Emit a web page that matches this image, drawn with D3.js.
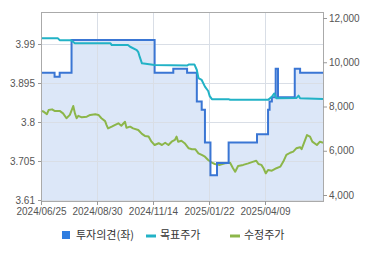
<!DOCTYPE html>
<html>
<head>
<meta charset="utf-8">
<script src="https://cdn.jsdelivr.net/npm/d3@7"></script>
<style>
  body { margin: 0; background: #fff; }
  .tick text { font-family: "Liberation Sans", Arial, sans-serif; font-size: 10px; fill: #555; }
  .tick line { stroke: #999; }
  .legend text { font-family: "Noto Sans CJK KR", sans-serif; font-size: 11px; fill: #333; }
</style>
</head>
<body>
<div id="container"></div>
<script>
// 기본 캔버스 크기와 여백
const WIDTH = 370;
const HEIGHT = 255;
const MARGIN = { TOP: 12, BOTTOM: 54, LEFT: 41, RIGHT: 47 };
const TICK_STEP = 56;

const width = WIDTH - MARGIN.LEFT - MARGIN.RIGHT;
const height = HEIGHT - MARGIN.TOP - MARGIN.BOTTOM;

const parse = d3.timeParse('%Y-%m-%d');

// x축 눈금 날짜 (거래일 기준이라 간격이 일정함)
const tickDates = ['2024-06-25', '2024-08-30', '2024-11-14', '2025-01-22', '2025-04-09'];
const lastDate = '2025-06-24';

// 좌축 / 우축 눈금
const leftTicks = [3.61, 3.705, 3.8, 3.895, 3.99];
const rightTicks = [4000, 6000, 8000, 10000, 12000];

// 투자의견 (좌축, 계단형)
const opinion = [
  ['2024-06-25', 3.92], ['2024-07-11', 3.91], ['2024-07-17', 3.92], ['2024-07-31', 4.0],
  ['2024-11-16', 3.92], ['2024-12-09', 3.93], ['2024-12-26', 3.92], ['2025-01-07', 3.85],
  ['2025-01-13', 3.83], ['2025-01-17', 3.75], ['2025-01-24', 3.67], ['2025-02-02', 3.70],
  ['2025-02-18', 3.75], ['2025-03-29', 3.77], ['2025-04-13', 3.83], ['2025-04-15', 3.85],
  ['2025-04-18', 3.86], ['2025-04-23', 3.93], ['2025-04-26', 3.86], ['2025-05-18', 3.93],
  ['2025-05-25', 3.92], ['2025-06-24', 3.92]
];

// 목표주가 (우축)
const target = [
  ['2024-06-25', 11080], ['2024-07-15', 11080], ['2024-07-17', 11000], ['2024-07-30', 11000],
  ['2024-08-04', 10860], ['2024-09-17', 10860], ['2024-09-19', 10780], ['2024-10-11', 10780],
  ['2024-10-14', 10700], ['2024-10-23', 10550], ['2024-10-25', 10460], ['2024-10-27', 10240],
  ['2024-10-30', 9950], ['2024-11-16', 9880], ['2024-12-26', 9850], ['2024-12-28', 9900],
  ['2025-01-04', 9900], ['2025-01-07', 9650], ['2025-01-09', 9280], ['2025-01-13', 9200],
  ['2025-01-17', 8900], ['2025-01-21', 8700], ['2025-01-23', 8470], ['2025-01-26', 8330],
  ['2025-02-18', 8330], ['2025-02-20', 8300], ['2025-04-13', 8300], ['2025-04-18', 8440],
  ['2025-04-21', 8590], ['2025-04-24', 8370], ['2025-05-20', 8380], ['2025-05-23', 8490],
  ['2025-05-25', 8370], ['2025-06-24', 8340]
];

// 수정주가 (우축)
const price = [
  ['2024-06-25', 7800], ['2024-06-28', 7770], ['2024-07-02', 7650], ['2024-07-04', 7840],
  ['2024-07-08', 7870], ['2024-07-11', 7800], ['2024-07-17', 7800], ['2024-07-21', 7690],
  ['2024-07-25', 7470], ['2024-07-29', 7620], ['2024-08-02', 8020], ['2024-08-04', 7690],
  ['2024-08-06', 7470], ['2024-08-08', 7580], ['2024-08-12', 7510], ['2024-08-18', 7540],
  ['2024-08-22', 7620], ['2024-08-28', 7650], ['2024-09-01', 7620], ['2024-09-05', 7470],
  ['2024-09-10', 7340], ['2024-09-12', 7160], ['2024-09-14', 7010], ['2024-09-19', 7090],
  ['2024-09-23', 7160], ['2024-09-28', 7240], ['2024-10-02', 7130], ['2024-10-07', 7310],
  ['2024-10-09', 7040], ['2024-10-14', 7090], ['2024-10-18', 7010], ['2024-10-25', 6940],
  ['2024-10-30', 6760], ['2024-11-03', 6670], ['2024-11-08', 6640], ['2024-11-12', 6410],
  ['2024-11-16', 6260], ['2024-11-21', 6340], ['2024-11-25', 6260], ['2024-11-29', 6360],
  ['2024-12-03', 6260], ['2024-12-07', 6410], ['2024-12-11', 6490], ['2024-12-13', 6640],
  ['2024-12-15', 6410], ['2024-12-19', 6450], ['2024-12-23', 6340], ['2024-12-28', 6110],
  ['2025-01-01', 6070], ['2025-01-05', 6070], ['2025-01-09', 5880], ['2025-01-13', 5810],
  ['2025-01-17', 5730], ['2025-01-21', 5580], ['2025-01-26', 5460], ['2025-01-30', 5400],
  ['2025-02-06', 5360], ['2025-02-13', 5430], ['2025-02-20', 5460], ['2025-02-24', 5210],
  ['2025-02-27', 5050], ['2025-03-03', 5310], ['2025-03-10', 5360], ['2025-03-17', 5430],
  ['2025-03-24', 5510], ['2025-03-28', 5550], ['2025-03-31', 5400], ['2025-04-04', 5360],
  ['2025-04-07', 5210], ['2025-04-10', 4980], ['2025-04-13', 5130], ['2025-04-18', 5100],
  ['2025-04-24', 5210], ['2025-04-29', 5280], ['2025-05-03', 5510], ['2025-05-07', 5810],
  ['2025-05-12', 5910], ['2025-05-16', 5960], ['2025-05-20', 6110], ['2025-05-25', 6160],
  ['2025-05-27', 6070], ['2025-05-30', 6340], ['2025-06-03', 6710], ['2025-06-07', 6640],
  ['2025-06-10', 6410], ['2025-06-16', 6260], ['2025-06-20', 6410], ['2025-06-24', 6360]
];

const legendLabels = ['투자의견(좌)', '목표주가', '수정주가'];

const COLORS = { opinion: '#3a76d4', target: '#22b2c6', price: '#8cb64a', area: '#dce7f8' };

const container = d3.select('#container')
                    .append('svg')
                      .attr('width', WIDTH)
                      .attr('height', HEIGHT)
                    .append('g')
                      .attr('transform', `translate(${MARGIN.LEFT}, ${MARGIN.TOP})`);

// 스케일: 눈금 날짜마다 같은 간격이 되도록 다구간 시간 스케일 사용
const ticks = tickDates.map(parse);
const x = d3.scaleTime()
            .domain([...ticks, parse(lastDate)])
            .range([...ticks.map((d, i) => i * TICK_STEP), width]);

const yLeft = d3.scaleLinear()
                .domain([3.61, 3.99])
                .range([height - 1, 32]);

const yRight = d3.scaleLinear()
                 .domain([4000, 12000])
                 .range([183, 6]);

// 투자의견 아래 영역
container.append('path')
         .datum(opinion)
         .attr('fill', COLORS.area)
         .attr('d', d3.area()
                      .curve(d3.curveStepAfter)
                      .x(d => x(parse(d[0])))
                      .y0(height)
                      .y1(d => yLeft(d[1])));

// 격자
container.append('g')
         .selectAll('line')
         .data(leftTicks)
         .enter()
         .append('line')
           .attr('x1', 0)
           .attr('x2', width)
           .attr('y1', d => Math.round(yLeft(d)) + 0.5)
           .attr('y2', d => Math.round(yLeft(d)) + 0.5)
           .attr('stroke', '#d9dee6');

container.append('g')
         .selectAll('line')
         .data(ticks)
         .enter()
         .append('line')
           .attr('x1', d => Math.round(x(d)) + 0.5)
           .attr('x2', d => Math.round(x(d)) + 0.5)
           .attr('y1', 0)
           .attr('y2', height)
           .attr('stroke', '#d9dee6');

// 선 그리기
const lineOf = (scale, curve) => d3.line()
                                   .curve(curve)
                                   .x(d => x(parse(d[0])))
                                   .y(d => scale(d[1]));

container.append('path')
         .datum(price)
         .attr('fill', 'none')
         .attr('stroke', COLORS.price)
         .attr('stroke-width', 2)
         .attr('stroke-linejoin', 'round')
         .attr('d', lineOf(yRight, d3.curveLinear));

container.append('path')
         .datum(opinion)
         .attr('fill', 'none')
         .attr('stroke', COLORS.opinion)
         .attr('stroke-width', 2)
         .attr('d', lineOf(yLeft, d3.curveStepAfter));

container.append('path')
         .datum(target)
         .attr('fill', 'none')
         .attr('stroke', COLORS.target)
         .attr('stroke-width', 2)
         .attr('stroke-linejoin', 'round')
         .attr('d', lineOf(yRight, d3.curveLinear));

// 테두리
container.append('rect')
         .attr('x', 0.5)
         .attr('y', 0.5)
         .attr('width', width)
         .attr('height', height)
         .attr('fill', 'none')
         .attr('stroke', '#aaa');

// 축
container.append('g')
         .attr('transform', `translate(0,${height})`)
         .call(d3.axisBottom(x)
                 .tickValues(ticks)
                 .tickSize(4)
                 .tickPadding(3)
                 .tickFormat(d3.timeFormat('%Y/%m/%d')))
         .call(g => g.select('.domain').remove());

container.append('g')
         .call(d3.axisLeft(yLeft)
                 .tickValues(leftTicks)
                 .tickSize(3)
                 .tickPadding(3)
                 .tickFormat(d => String(d)))
         .call(g => g.select('.domain').remove());

container.append('g')
         .attr('transform', `translate(${width},0)`)
         .call(d3.axisRight(yRight)
                 .tickValues(rightTicks)
                 .tickSize(4)
                 .tickPadding(2)
                 .tickFormat(d3.format(',')))
         .call(g => g.select('.domain').remove());

// 범례
const legend = d3.select('svg')
                 .append('g')
                   .attr('class', 'legend')
                   .attr('transform', 'translate(62,235)');

const item = legend.selectAll('g')
                   .data(legendLabels)
                   .enter()
                   .append('g')
                     .attr('transform', (d, i) => `translate(${i * 84},0)`);

item.filter((d, i) => i === 0)
    .append('rect')
      .attr('x', 0)
      .attr('y', -4)
      .attr('width', 8)
      .attr('height', 8)
      .attr('fill', '#2f7de0');

item.filter((d, i) => i > 0)
    .append('line')
      .attr('x1', 0)
      .attr('x2', 10)
      .attr('y1', 1)
      .attr('y2', 1)
      .attr('stroke', (d, i) => i === 0 ? COLORS.target : COLORS.price)
      .attr('stroke-width', 3);

item.append('text')
    .attr('x', (d, i) => i === 0 ? 14 : 14)
    .attr('y', 4)
    .text(d => d);
</script>
</body>
</html>
